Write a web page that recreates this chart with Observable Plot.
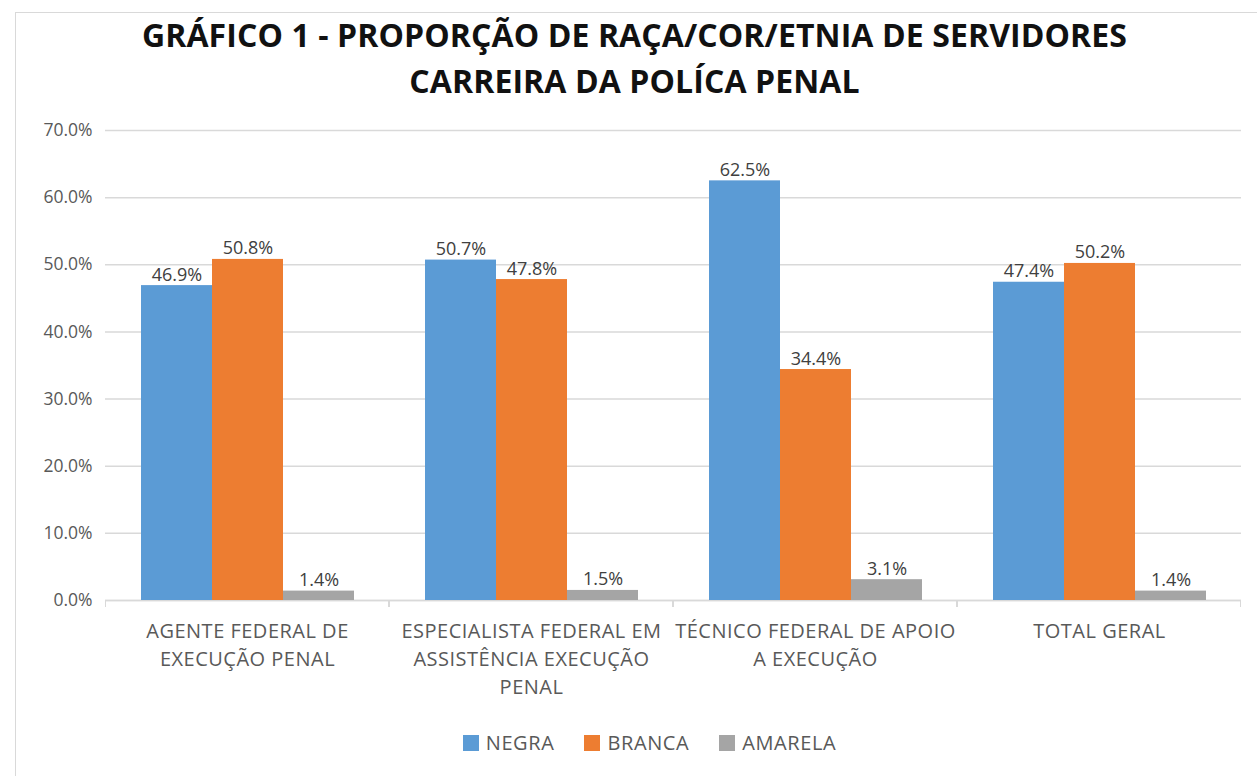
<!DOCTYPE html>
<html>
<head>
<meta charset="utf-8">
<script src="https://cdn.jsdelivr.net/npm/d3@7"></script>
<script src="https://cdn.jsdelivr.net/npm/@observablehq/plot@0.6"></script>
<style>
  html, body { margin: 0; padding: 0; background: #fff; }
  body { width: 1257px; height: 776px; position: relative; overflow: hidden; }
  #frame { position: absolute; left: 15px; top: 12px; right: -5px; bottom: -5px; border: 1px solid #d9d9d9; pointer-events: none; }
  #title { height: 100px; box-sizing: border-box; padding-top: 12px; padding-left: 12px; text-align: center;
           font-family: "Open Sans", sans-serif; font-weight: 700; font-size: 32px; line-height: 46px; color: #111; letter-spacing: 0.1px; }
  #chart svg { display: block; }
  .cat-labels text { letter-spacing: 0.5px; }
  #legend { display: flex; justify-content: center; gap: 30px; margin-top: 23px; padding-left: 42px;
            font-family: "Open Sans", sans-serif; font-size: 20px; line-height: 20px; color: #595959; letter-spacing: 0.6px; }
  #legend .item { display: flex; align-items: center; gap: 7px; }
  #legend .sw { width: 16px; height: 16px; display: inline-block; }
</style>
</head>
<body>
<div id="frame"></div>
<div id="title">GRÁFICO 1 - PROPORÇÃO DE RAÇA/COR/ETNIA DE SERVIDORES<br>CARREIRA DA POLÍCA PENAL</div>
<div id="chart"></div>
<div id="legend"></div>
<script>
const categories = [
  "AGENTE FEDERAL DE EXECUÇÃO PENAL",
  "ESPECIALISTA FEDERAL EM ASSISTÊNCIA EXECUÇÃO PENAL",
  "TÉCNICO FEDERAL DE APOIO A EXECUÇÃO",
  "TOTAL GERAL"
];
const categoryTickLabels = [
  "AGENTE FEDERAL DE\nEXECUÇÃO PENAL",
  "ESPECIALISTA FEDERAL EM\nASSISTÊNCIA EXECUÇÃO\nPENAL",
  "TÉCNICO FEDERAL DE APOIO\nA EXECUÇÃO",
  "TOTAL GERAL"
];
const series = ["NEGRA", "BRANCA", "AMARELA"];
const colors = ["#5b9bd5", "#ed7d31", "#a5a5a5"];
const negra = [46.9, 50.7, 62.5, 47.4];
const branca = [50.8, 47.8, 34.4, 50.2];
const amarela = [1.4, 1.5, 3.1, 1.4];
const yTicks = [0, 10, 20, 30, 40, 50, 60, 70];

const seriesValues = [negra, branca, amarela];
const data = [];
categories.forEach((c, i) => {
  series.forEach((s, j) => data.push({category: c, series: s, value: seriesValues[j][i]}));
});

function boundaryTicks(index, scales, values, dimensions) {
  const {marginLeft, marginRight, width} = dimensions;
  const y0 = scales.y(0);
  const g = d3.create("svg:g").attr("stroke", "#d9d9d9");
  for (const x of [marginLeft + 0.5, width - marginRight - 0.5]) {
    g.append("line").attr("x1", x).attr("x2", x).attr("y1", y0).attr("y2", y0 + 7);
  }
  return g.node();
}

const plot = Plot.plot({
  width: 1257,
  height: 610,
  marginTop: 30,
  marginBottom: 110,
  marginLeft: 105,
  marginRight: 16,
  style: {fontFamily: "'Open Sans', sans-serif", background: "transparent"},
  fx: {domain: categories, padding: 0, axis: null},
  x: {domain: series, paddingInner: 0, paddingOuter: 0.5, axis: null},
  y: {domain: [0, 70], axis: null},
  color: {domain: series, range: colors},
  marks: [
    Plot.gridY(yTicks, {stroke: "#d9d9d9", strokeOpacity: 1, strokeWidth: 1.5}),
    Plot.ruleY([0], {stroke: "#d9d9d9", strokeWidth: 1.5}),
    boundaryTicks,
    Plot.barY(data, {fx: "category", x: "series", y: "value", fill: "series"}),
    Plot.text(data, {fx: "category", x: "series", y: "value", text: d => d.value.toFixed(1) + "%",
      lineAnchor: "bottom", dy: -5, fontSize: 18, fill: "#404040"}),
    Plot.axisY({ticks: yTicks, tickFormat: d => d.toFixed(1) + "%", tickSize: 0, tickPadding: 13,
      fontSize: 17.5, fill: "#595959", label: null}),
    Plot.axisFx({anchor: "bottom", tickSize: 0, tickPadding: 18, fontSize: 20, lineHeight: 1.4,
      fill: "#595959", label: null, className: "cat-labels",
      tickFormat: d => categoryTickLabels[categories.indexOf(d)]})
  ]
});
document.getElementById("chart").appendChild(plot);

const legend = d3.select("#legend");
series.forEach((s, i) => {
  const item = legend.append("div").attr("class", "item");
  item.append("span").attr("class", "sw").style("background", colors[i]);
  item.append("span").text(s);
});
</script>
</body>
</html>
